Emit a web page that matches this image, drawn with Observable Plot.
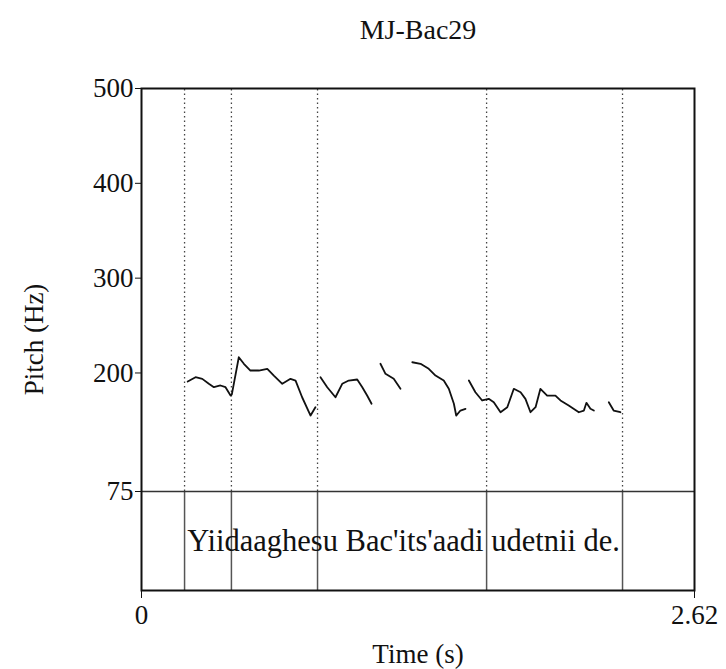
<!DOCTYPE html>
<html>
<head>
<meta charset="utf-8">
<script src="https://cdn.jsdelivr.net/npm/d3@7"></script>
<script src="https://cdn.jsdelivr.net/npm/@observablehq/plot@0.6"></script>
<style>
  html, body { margin: 0; padding: 0; background: #fff; }
</style>
</head>
<body>
<div id="chart"></div>
<script>
// Recording name shown above the pitch panel
const recordingName = "MJ-Bac29";

// Pitch track (time in s, F0 in Hz), split into voiced stretches
const track1Time = [0.219, 0.256, 0.288, 0.319, 0.343, 0.374, 0.398, 0.422, 0.428, 0.461, 0.485, 0.516, 0.556, 0.596, 0.627, 0.667, 0.706, 0.730, 0.761, 0.801, 0.824];
const track1Hz   = [191.0, 195.5, 193.8, 188.6, 185.0, 186.8, 185.0, 176.2, 177.5, 216.6, 209.7, 202.6, 202.6, 204.4, 197.3, 188.6, 193.8, 192.0, 174.4, 155.1, 163.9];

const track2Time = [0.848, 0.880, 0.919, 0.951, 0.982, 1.022, 1.046, 1.069, 1.090];
const track2Hz   = [195.5, 185.0, 174.4, 188.6, 192.0, 193.1, 185.0, 176.2, 167.5];

const track3Time = [1.132, 1.156, 1.195, 1.227];
const track3Hz   = [209.7, 199.1, 193.8, 183.3];

const track4Time = [1.283, 1.322, 1.361, 1.393, 1.432, 1.456, 1.480, 1.491, 1.511, 1.535];
const track4Hz   = [211.3, 209.7, 204.4, 197.3, 192.0, 183.3, 167.5, 155.1, 160.4, 162.2];

const track5Time = [1.551, 1.582, 1.614, 1.645, 1.669, 1.701, 1.733, 1.764, 1.796, 1.819, 1.843, 1.867, 1.890, 1.922, 1.961, 1.985, 2.024, 2.072, 2.096, 2.108, 2.127, 2.143];
const track5Hz   = [192.0, 179.7, 171.0, 172.7, 169.2, 158.6, 163.9, 183.3, 179.7, 172.7, 158.6, 163.9, 183.3, 176.2, 176.2, 171.0, 165.7, 158.6, 160.4, 168.5, 162.2, 160.4];

const track6Time = [2.214, 2.237, 2.269];
const track6Hz   = [169.2, 160.4, 158.6];

// Word boundaries (s) of the annotation tier
const boundaries = [0.204, 0.426, 0.834, 1.635, 2.279];
const tierText = "Yiidaaghesu Bac'its'aadi udetnii de.";

// Axis settings
const timeTicks = [0, 2.62];
const pitchTicks = [75, 200, 300, 400, 500];
const pitchFloor = 75;
const pitchCeiling = 500;
const tierBottom = -29.4; // the annotation tier sits below the pitch floor

const tracks = [
  [track1Time, track1Hz], [track2Time, track2Hz], [track3Time, track3Hz],
  [track4Time, track4Hz], [track5Time, track5Hz], [track6Time, track6Hz]
];
const points = tracks.flatMap(([ts, hs], i) => ts.map((t, j) => ({t, hz: hs[j], seg: i})));

const font = "'Liberation Serif', 'Times New Roman', serif";

const chart = Plot.plot({
  width: 726,
  height: 669,
  marginLeft: 141,
  marginRight: 32,
  marginTop: 88,
  marginBottom: 79,
  style: {fontFamily: font, fontSize: "27px", color: "#111", background: "#fff"},
  x: {domain: [timeTicks[0], timeTicks[1]]},
  y: {domain: [tierBottom, pitchCeiling]},
  marks: [
    // dotted boundary lines through the pitch panel
    Plot.ruleX(boundaries, {y1: pitchFloor, y2: pitchCeiling, stroke: "#444", strokeWidth: 1.3, strokeDasharray: "1.5,3"}),
    // solid boundary lines in the annotation tier
    Plot.ruleX(boundaries, {y1: tierBottom, y2: pitchFloor, stroke: "#555", strokeWidth: 1.5}),
    // pitch floor separating the panel from the tier
    Plot.ruleY([pitchFloor], {stroke: "#333", strokeWidth: 1.5}),
    // pitch contour
    Plot.line(points, {x: "t", y: "hz", z: "seg", stroke: "#111", strokeWidth: 1.8, strokeLinejoin: "round"}),
    // tier transcription, centred on the annotated stretch
    Plot.text([tierText], {
      x: (boundaries[0] + boundaries[boundaries.length - 1]) / 2,
      y: (pitchFloor + tierBottom) / 2,
      text: d => d, fontSize: 30.5, fontFamily: font, fill: "#111"
    }),
    Plot.frame({stroke: "#111", strokeWidth: 2}),
    Plot.axisY({
      ticks: pitchTicks, tickSize: 6, tickPadding: 2, tickFormat: d => String(d),
      fontFamily: font,
      label: "Pitch (Hz)", labelAnchor: "center", labelArrow: "none", labelOffset: 118
    }),
    Plot.axisX({
      ticks: timeTicks, tickSize: 8, tickPadding: 6, tickFormat: d => String(d),
      fontFamily: font,
      label: "Time (s)", labelAnchor: "center", labelArrow: "none", labelOffset: 72
    }),
    // recording name above the panel
    Plot.text([recordingName], {
      frameAnchor: "top", lineAnchor: "middle", dy: -58,
      text: d => d, fontSize: 28, fontFamily: font, fill: "#111"
    })
  ]
});

document.getElementById("chart").appendChild(chart);
</script>
</body>
</html>
